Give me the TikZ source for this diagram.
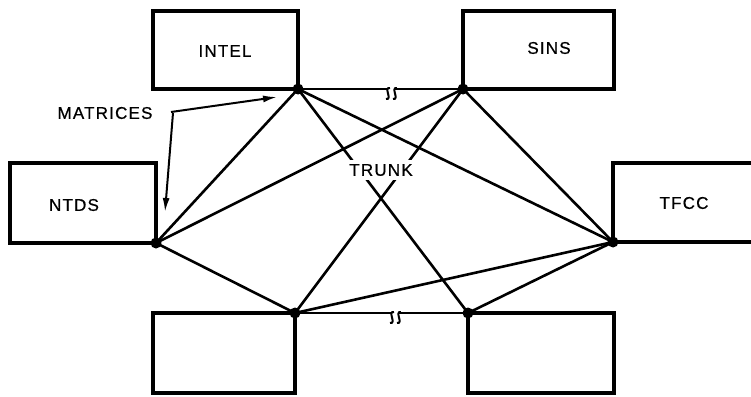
\documentclass[tikz,border=0pt]{standalone}
\usepackage{fontspec}
\setmainfont{Liberation Sans}
\usetikzlibrary{arrows.meta}
\begin{document}
\begin{tikzpicture}[x=1pt,y=-1pt,
  boxline/.style={line width=3.2pt},
  conn/.style={line width=2.6pt},
  brk/.style={line width=2pt},
  dotnode/.style={circle,fill=black,inner sep=0pt,minimum size=11pt},
  lbl/.style={font=\fontsize{17}{17}\selectfont\addfontfeatures{LetterSpace=7,FakeBold=0.6}},
  arr/.style={line width=2pt,-{Latex[length=14pt,width=7pt]}}]
\useasboundingbox (0,0) rectangle (751,396);
\clip (0,0) rectangle (751,396);
\fill[white] (0,0) rectangle (751,396);
% boxes
\draw[boxline] (153,11) rectangle (298,89);
\draw[boxline] (463,11) rectangle (614,89);
\draw[boxline] (10,163) rectangle (156,243);
\draw[boxline] (613,163) rectangle (780,242);
\draw[boxline] (153,313) rectangle (295,393);
\draw[boxline] (468,313) rectangle (614,393);
\node[lbl] (intel) at (225,51) {INTEL};
\node[lbl] (sins) at (549,48) {SINS};
\node[lbl] (ntds) at (74,205) {NTDS};
\node[lbl] (tfcc) at (684,203) {TFCC};
% junctions
\coordinate (jI) at (298,89);
\coordinate (jS) at (463,89);
\coordinate (jN) at (156,243);
\coordinate (jT) at (613,242);
\coordinate (jB) at (295,313);
\coordinate (jR) at (468,313);
% connectors
\draw[conn] (jI) -- (jS);
\draw[conn] (jB) -- (jR);
\draw[conn] (jI) -- (jN);
\draw[conn] (jI) -- (jT);
\draw[conn] (jI) -- (jR);
\draw[conn] (jS) -- (jN);
\draw[conn] (jS) -- (jT);
\draw[conn] (jS) -- (jB);
\draw[conn] (jN) -- (jB);
\draw[conn] (jT) -- (jB);
\draw[conn] (jT) -- (jR);
% break marks
\foreach \bx/\by in {386/89, 390/313}{
  \fill[white] (\bx+1,\by-2.5) rectangle (\bx+8,\by+2.5);
  \draw[brk] (\bx+4,\by-1) .. controls (\bx-3,\by-2) and (\bx+7,\by+11) .. (\bx,\by+10);
  \draw[brk] (\bx+11,\by-1) .. controls (\bx+4,\by-2) and (\bx+14,\by+11) .. (\bx+7,\by+10);
}
% dots
\foreach \j in {jI,jS,jN,jT,jB,jR}{\node[dotnode] at (\j) {};}
% labels
\node[lbl,fill=white,inner xsep=4pt,inner ysep=4pt] (trunk) at (381,170) {TRUNK};
\node[lbl] (matrices) at (105,113) {MATRICES};
\coordinate (m0) at (171,112);
\coordinate (m1) at (173,113);
\coordinate (ma) at (277,97);
\coordinate (mb) at (165,212);
\draw[arr] (m0) -- (ma);
\draw[arr] (m1) -- (mb);
\end{tikzpicture}
\end{document}
